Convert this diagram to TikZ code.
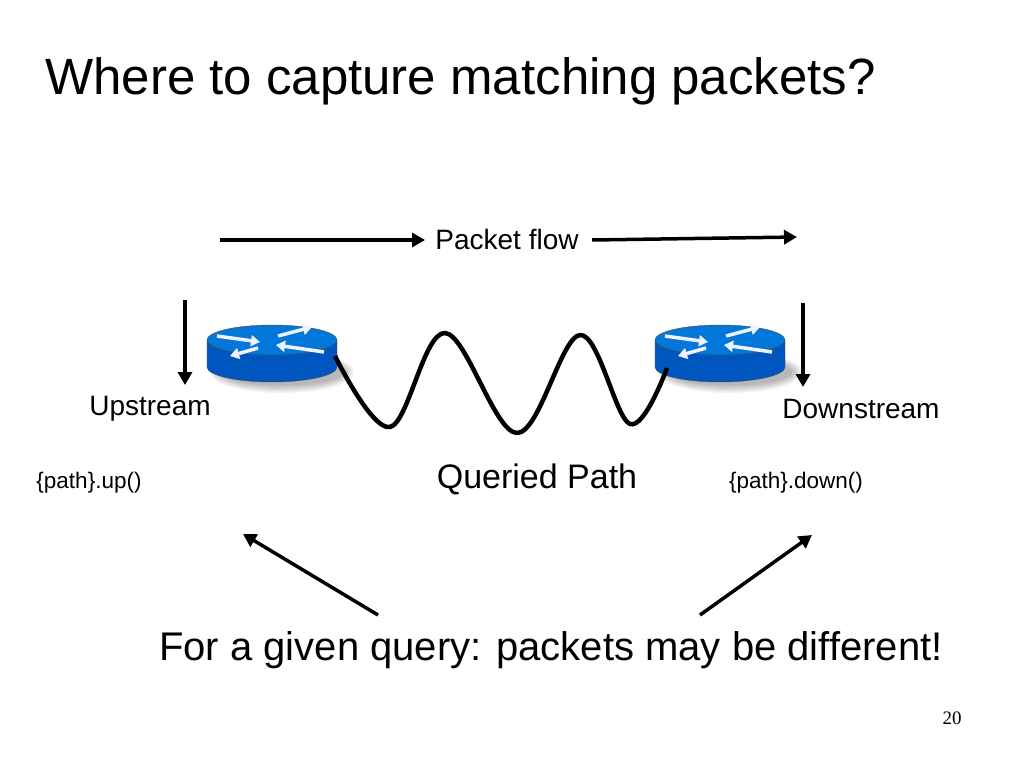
\documentclass[tikz,border=0pt]{standalone}
\usepackage{fontspec}
\setmainfont{Liberation Sans}
\newfontfamily\serifnum{Liberation Serif}
\usetikzlibrary{arrows.meta}
\begin{document}
\begin{tikzpicture}[x=1pt,y=-1pt,
  arr/.style={line width=3.5pt,-{Triangle[length=13pt,width=14pt]}},
  warr/.style={white!95!blue,line width=3.5pt,-{Triangle[length=9pt,width=11pt]}},
  lbl/.style={inner sep=0pt,anchor=center}]
\useasboundingbox (0,0) rectangle (1024,768);
\fill[white] (0,0) rectangle (1024,768);
\node[lbl,anchor=west] (title) at (45,81) {\fontsize{51}{53}\selectfont Where to capture matching packets?};
\node[lbl] (pf) at (507,239) {\fontsize{28}{30}\selectfont Packet flow};
\coordinate (a1) at (220,240); \coordinate (a2) at (425,240);
\coordinate (b1) at (592,240); \coordinate (b2) at (797,237);
\draw[arr] (a1) -- (a2);
\draw[arr] (b1) -- (b2);
% routers
\foreach \n/\cx in {r1/272,r2/720}{
  \foreach \k in {1,...,6}{\fill[black,opacity=0.05] (\cx+10,372) ellipse ({60+2*\k} and {12+1.5*\k});}
  \fill[blue!55!cyan!75!black] (\cx-65,340) -- (\cx-65,367) arc (180:0:65 and 15) -- (\cx+65,340) -- cycle;
  \draw[black!70,thin] (\cx-65,340) -- (\cx-65,367) arc (180:0:65 and 15) -- (\cx+65,340);
  \fill[blue!45!cyan!85!black] (\cx,340) ellipse (65 and 15);
  \draw[black!70,thin] (\cx,340) ellipse (65 and 15);
  \draw[warr] (\cx-55,336) -- (\cx-12,342);
  \draw[warr] (\cx-14,348) -- (\cx-42,356);
  \draw[warr] (\cx+6,336) -- (\cx+40,327);
  \draw[warr] (\cx+52,352) -- (\cx+4,345);
  \node[inner sep=0pt,minimum width=130pt,minimum height=42pt] (\n) at (\cx,355) {};
}
\node[lbl] (up) at (150,409) {\fontsize{28}{30}\selectfont Upstream};
\node[lbl] (down) at (861,409) {\fontsize{28}{30}\selectfont Downstream};
\coordinate (c1) at (185,300); \coordinate (c2) at (185,385);
\coordinate (d1) at (803,303); \coordinate (d2) at (803,387);
\draw[arr] (c1) -- (c2);
\draw[arr] (d1) -- (d2);
\coordinate (w0) at (335,356); \coordinate (w6) at (667,368);
\draw[line width=4.5pt,line join=round] plot[smooth,tension=0.6] coordinates {(w0) (390,427) (445,333) (517,433) (580,335) (630,424) (w6)};
\node[lbl] (pu) at (89,483) {\fontsize{22.5}{24}\selectfont \{path\}.up()};
\node[lbl] (qp) at (537,479) {\fontsize{34}{36}\selectfont Queried Path};
\node[lbl] (pd) at (796,483) {\fontsize{22.5}{24}\selectfont \{path\}.down()};
\coordinate (e1) at (378,615); \coordinate (e2) at (243,534);
\coordinate (f1) at (700,615); \coordinate (f2) at (812,535);
\draw[arr] (e1) -- (e2);
\draw[arr] (f1) -- (f2);
\node[lbl] (q) at (551,650) {\fontsize{40}{42}\selectfont For a given query: packets may be different!};
\node[lbl] (num) at (952,718) {\serifnum\fontsize{19}{21}\selectfont 20};
\end{tikzpicture}
\end{document}
